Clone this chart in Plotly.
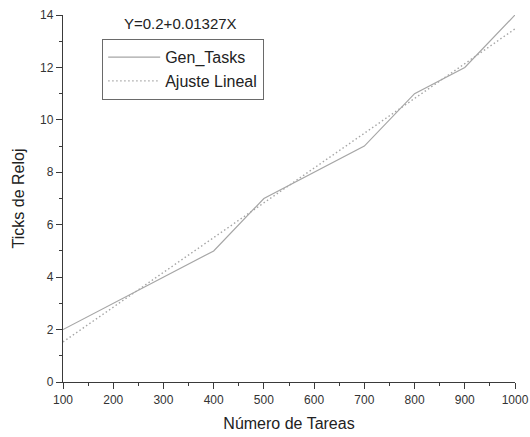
import plotly.graph_objects as go

# Measured clock ticks per number of generated tasks
num_tareas = [100, 200, 300, 400, 500, 600, 700, 800, 900, 1000]
ticks_reloj = [2, 3, 4, 5, 7, 8, 9, 11, 12, 14]

# Linear fit coefficients (Y = A + B*X)
fit_a = 0.2
fit_b = 0.01327
fit_x = [100, 1000]
fit_y = [fit_a + fit_b * x for x in fit_x]

font_family = "Liberation Sans, Arial, sans-serif"
axis_col = "#3a3a3a"
line_col = "#a6a6a6"

fig = go.Figure()
fig.add_trace(go.Scatter(
    x=num_tareas, y=ticks_reloj, mode="lines", name="Gen_Tasks",
    line=dict(color=line_col, width=1.2),
))
fig.add_trace(go.Scatter(
    x=fit_x, y=fit_y, mode="lines", name="Ajuste Lineal",
    line=dict(color=line_col, width=1.4, dash="1.5px,2.5px"),
))

axis_common = dict(
    showgrid=False, zeroline=False, showline=True, automargin=False,
    linecolor=axis_col, linewidth=1.3,
    ticks="outside", tickcolor=axis_col, tickwidth=1.3, ticklen=6,
    tickfont=dict(family=font_family, size=12, color="#333333"),
)

fig.update_xaxes(
    range=[100, 1000], tickmode="linear", tick0=100, dtick=100,
    minor=dict(ticks="outside", dtick=50, ticklen=3, tickcolor=axis_col, tickwidth=1.3),
    title=dict(text="Número de Tareas", font=dict(family=font_family, size=16, color="#222222"), standoff=12),
    **axis_common,
)
fig.update_yaxes(
    range=[0, 14], tickmode="linear", tick0=0, dtick=2,
    minor=dict(ticks="outside", dtick=1, ticklen=3, tickcolor=axis_col, tickwidth=1.3),
    title=dict(text="Ticks de Reloj", font=dict(family=font_family, size=16, color="#222222"), standoff=11),
    **axis_common,
)

fig.add_annotation(
    text="Y=0.2+0.01327X", xref="paper", yref="paper",
    x=0.26, y=0.978, xanchor="center", yanchor="middle", showarrow=False,
    font=dict(family=font_family, size=15, color="#222222"),
)

fig.update_layout(
    width=530, height=437,
    margin=dict(l=63, r=15, t=15, b=55),
    paper_bgcolor="white", plot_bgcolor="white",
    showlegend=True,
    legend=dict(
        x=0.086, y=0.935, xanchor="left", yanchor="top",
        bordercolor="#6a6a6a", borderwidth=1.3, bgcolor="white",
        font=dict(family=font_family, size=16, color="#222222"),
        itemwidth=52, tracegroupgap=0,
    ),
)

fig.write_html("out.html")
